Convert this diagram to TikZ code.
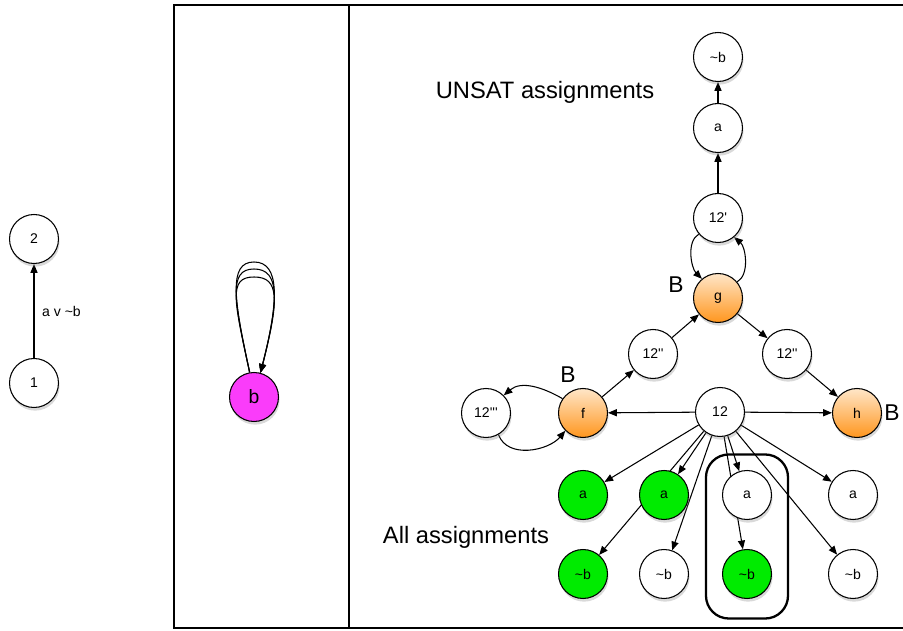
\documentclass[tikz,border=0pt]{standalone}
\usepackage{fontspec}
\setmainfont{Liberation Sans}
\usetikzlibrary{arrows.meta, shadows, fit, backgrounds}

\definecolor{satgreen}{RGB}{0,235,0}
\definecolor{bpink}{RGB}{250,60,250}
\definecolor{orangetop}{RGB}{255,230,200}
\definecolor{orangebot}{RGB}{255,150,30}

\newcommand{\notb}{\textasciitilde b}
\newcommand{\apos}{\textquotesingle}

\tikzset{
  vertex/.style={circle, draw, fill=white, line width=0.6pt, minimum size=0.98cm, inner sep=0pt,
    font=\fontsize{8}{10}\selectfont,
    drop shadow={shadow xshift=0.6pt, shadow yshift=-1.8pt, opacity=0.3}},
  satvertex/.style={vertex, fill=satgreen},
  flipvertex/.style={vertex, top color=orangetop, bottom color=orangebot},
  edge/.style={-{Triangle[length=5pt,width=4pt]}, line width=0.6pt},
  pill/.style={draw, line width=1.3pt, rounded corners=13pt, inner xsep=0.32cm, inner ysep=0.35cm},
  blabel/.style={font=\fontsize{13}{15}\selectfont},
  title/.style={font=\fontsize{13.5}{16}\selectfont}
}

\begin{document}
\begin{tikzpicture}[x=0.02cm, y=0.02cm]
\useasboundingbox (0,0) rectangle (903,-631);

% clause graph
\node[vertex] (one) at (34,-383) {1};
\node[vertex] (two) at (34,-239) {2};

% conflict variable
\node[vertex, fill=bpink, font=\fontsize{11}{13}\selectfont] (b) at (254,-397) {b};

% unsat part
\node[vertex] (topnb) at (718,-57) {\notb};
\node[vertex] (topa) at (718,-128) {a};
\node[vertex] (u1) at (718,-218) {12\apos};
\node[flipvertex] (g) at (718,-298) {g};
\node[vertex] (u2l) at (653,-354) {12\apos\apos};
\node[vertex] (u2r) at (787,-354) {12\apos\apos};
\node[flipvertex] (f) at (583,-413) {f};
\node[vertex] (u3) at (486,-413) {12\apos\apos\apos};
\node[vertex] (root) at (720,-412) {12};
\node[flipvertex] (h) at (857,-413) {h};

\node[blabel] (bg) at (676,-285) {B};
\node[blabel] (bf) at (568,-375) {B};
\node[blabel] (bh) at (892,-413) {B};

% all assignments
\foreach \i/\x/\ta/\tb in {1/583/satvertex/satvertex, 2/664/satvertex/vertex,
                           3/747/vertex/satvertex, 4/853/vertex/vertex} {
  \node[\ta] (a\i) at (\x,-495) {a};
  \node[\tb] (nb\i) at (\x,-574) {\notb};
}
\node[pill, fit=(a3)(nb3), yshift=-0.04cm] (combo) {};

\node[title] (unsat) at (545,-92) {UNSAT assignments};
\node[title] (all) at (466,-537) {All assignments};

\begin{pgfonlayer}{background}
\draw[line width=0.6pt] (174,-5) rectangle (349,-628);
\draw[line width=0.6pt] (349,-5) rectangle (920,-628);

\draw[edge] (one) -- node[right=1pt, font=\fontsize{8}{10}\selectfont] {a v \notb} (two);

\foreach \t in {262,269,277} {
  \draw[edge] (b.100) .. controls (234,-300) and (228,-\t) .. (254,-\t)
    .. controls (280,-\t) and (279,-300) .. (b.75);
}

\draw[edge] (topa) -- (topnb);
\draw[edge] (u1) -- (topa);
\draw[edge] (u1.220) to[out=210,in=135,looseness=0.85] (g.130);
\draw[edge] (g.40) to[out=30,in=-40,looseness=0.85] (u1.-50);
\draw[edge] (g) -- (u2r);
\draw[edge] (u2l) -- (g);
\draw[edge] (u2r) -- (h);
\draw[edge] (f) -- (u2l);
\draw[edge] (f.145) to[out=150,in=40] (u3.45);
\draw[edge] (u3.-60) to[out=-70,in=-130] (f.-135);
\draw[edge] (root) -- (f);
\draw[edge] (root) -- (h);

\foreach \i in {1,...,4} {
  \draw[edge] (root) -- (a\i);
  \draw[edge] (root) -- (nb\i);
}
\end{pgfonlayer}

\end{tikzpicture}
\end{document}
